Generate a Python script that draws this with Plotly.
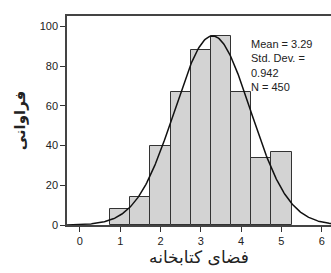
import numpy as np
import plotly.graph_objects as go

bin_centers = [1.0, 1.5, 2.0, 2.5, 3.0, 3.5, 4.0, 4.5, 5.0]
counts = [8, 14, 40, 67, 88, 95, 67, 34, 37]
bin_width = 0.5
mean = 3.29
std = 0.942
n_total = 450
x_ticks = [0, 1, 2, 3, 4, 5, 6]
y_ticks = [0, 20, 40, 60, 80, 100]
x_title = "فضای کتابخانه"
y_title = "فراوانی"
stats_text = "Mean = 3.29<br>Std. Dev. =<br>0.942<br>N = 450"

xc = np.linspace(-0.32, 6.25, 300)
yc = n_total * bin_width / (std * np.sqrt(2 * np.pi)) * np.exp(-0.5 * ((xc - mean) / std) ** 2)

fig = go.Figure()
fig.add_trace(go.Bar(x=bin_centers, y=counts, width=bin_width,
                     marker=dict(color="#d3d3d3", line=dict(color="#333333", width=1)),
                     showlegend=False))
fig.add_trace(go.Scatter(x=xc, y=yc, mode="lines", line=dict(color="#111111", width=1.5),
                         showlegend=False))

fig.update_layout(
    width=331, height=273,
    margin=dict(l=67, r=0, t=16, b=48, autoexpand=False),
    plot_bgcolor="white", paper_bgcolor="white",
    font=dict(family="Liberation Sans, Arial", size=11, color="#222222"),
    bargap=0,
    xaxis=dict(range=[-0.32, 6.23], tickvals=x_ticks, ticks="outside", ticklen=5,
               tickcolor="#333333", showline=True, linecolor="#444444", linewidth=1.5,
               mirror=True, showgrid=False, zeroline=False, automargin=False,
               title=dict(text=x_title, font=dict(family="DejaVu Sans", size=17), standoff=5)),
    yaxis=dict(range=[0, 105.3], tickvals=y_ticks, ticks="outside", ticklen=5,
               tickcolor="#333333", showline=True, linecolor="#444444", linewidth=1.5,
               showgrid=False, zeroline=False, automargin=False,
               title=dict(text="<b>" + y_title + "</b>", font=dict(family="DejaVu Sans", size=15), standoff=10)),
    annotations=[dict(x=4.2, y=95, xref="x", yref="y", text=stats_text, showarrow=False,
                      xanchor="left", yanchor="top", align="left",
                      font=dict(family="Liberation Sans, Arial", size=11, color="#222222"))],
)
fig.write_html("out.html", config={"displayModeBar": False},
               post_script="document.body.style.margin='0';document.body.style.overflow='hidden';")
